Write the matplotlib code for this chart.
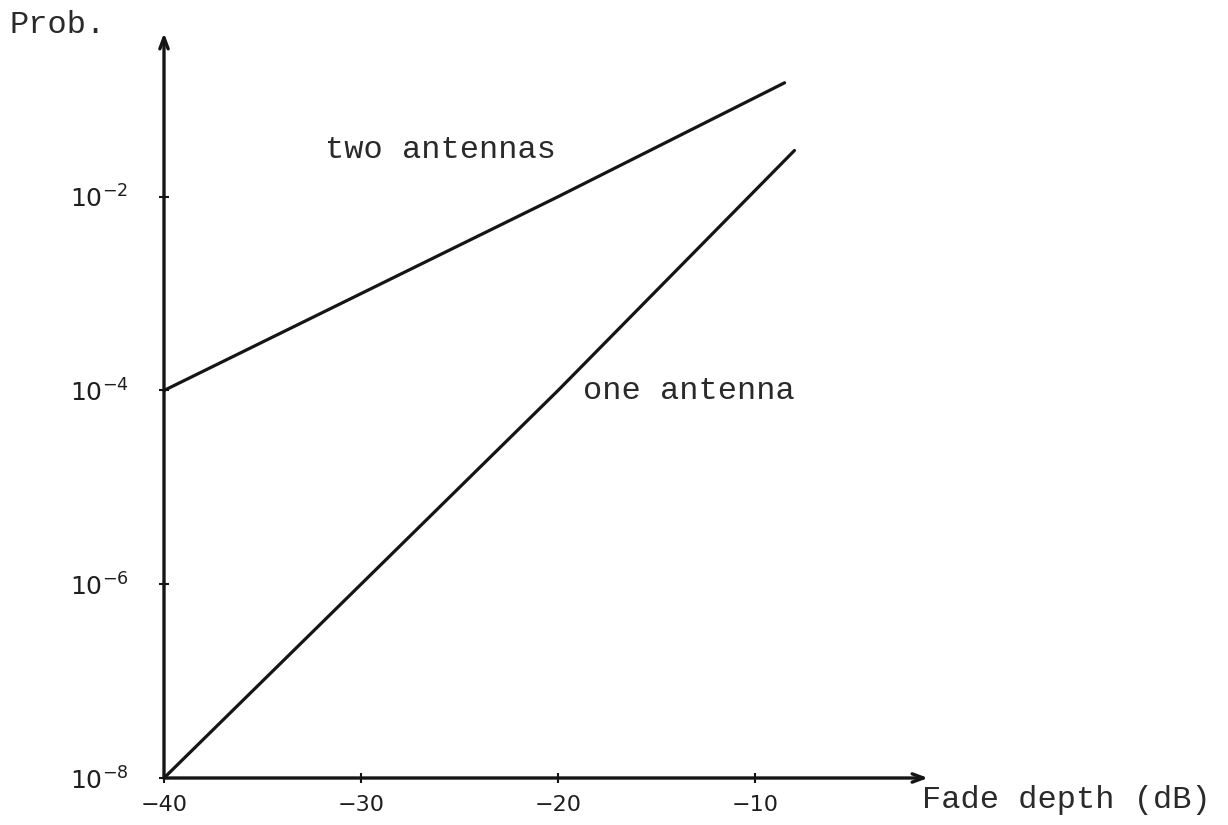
import matplotlib
matplotlib.use('Agg')
import matplotlib.pyplot as plt

# Data
fade_two = [-40, -20, -8.5]
prob_two = [1e-4, 1e-2, 1.5e-1]
fade_one = [-40, -20, -8]
prob_one = [1e-8, 1e-4, 3e-2]
x_ticks = [-40, -30, -20, -10]
x_tick_labels = ['\u221240', '\u221230', '\u221220', '\u221210']
y_ticks = [1e-8, 1e-6, 1e-4, 1e-2]
y_tick_labels = [r'$10^{-8}$', r'$10^{-6}$', r'$10^{-4}$', r'$10^{-2}$']

W, H = 1228, 825
plt.rcParams['mathtext.fontset'] = 'dejavusans'
fig = plt.figure(figsize=(W / 100, H / 100), dpi=100)
fig.patch.set_facecolor('white')
ax = fig.add_axes([164 / W, 47 / H, 764 / W, 745 / H])
ax.set_yscale('log')
ax.set_xlim(-40, -1.22)
ax.set_ylim(1e-8, 10 ** -0.31)

ink = '#151515'
ax.plot(fade_two, prob_two, color=ink, lw=2.3, solid_capstyle='round', clip_on=False)
ax.plot(fade_one, prob_one, color=ink, lw=2.3, solid_capstyle='round', clip_on=False)

for s in ax.spines.values():
    s.set_visible(False)

arrow = dict(arrowstyle='->,head_length=0.8,head_width=0.3', lw=2.4, color=ink,
             shrinkA=0, shrinkB=0)
ax.annotate('', xy=(1, 0), xytext=(0, 0), xycoords='axes fraction',
            textcoords='axes fraction', arrowprops=arrow)
ax.annotate('', xy=(0, 1), xytext=(0, 0), xycoords='axes fraction',
            textcoords='axes fraction', arrowprops=arrow)

ax.set_xticks(x_ticks)
ax.set_xticklabels(x_tick_labels, fontsize=16, color='#1e1e1e')
ax.set_yticks(y_ticks)
ax.set_yticklabels(y_tick_labels, fontsize=18, color='#1e1e1e')
ax.minorticks_off()
ax.tick_params(axis='x', direction='inout', length=7, width=1.5, color=ink, pad=9)
ax.tick_params(axis='y', direction='inout', length=7, width=1.5, color=ink, pad=22)

mono = 'Liberation Mono'
tc = '#2a2a2a'
fig.text(10 / W, 1 - 33 / H, 'Prob.', family=mono, fontsize=23, color=tc,
         ha='left', va='baseline')
fig.text(325 / W, 1 - 158 / H, 'two antennas', family=mono, fontsize=23, color=tc,
         ha='left', va='baseline')
fig.text(583 / W, 1 - 399 / H, 'one antenna', family=mono, fontsize=23, color=tc,
         ha='left', va='baseline')
fig.text(922 / W, 1 - 808 / H, 'Fade depth (dB)', family=mono, fontsize=23, color=tc,
         ha='left', va='baseline')

fig.savefig('out.png', dpi=100, facecolor='white')
